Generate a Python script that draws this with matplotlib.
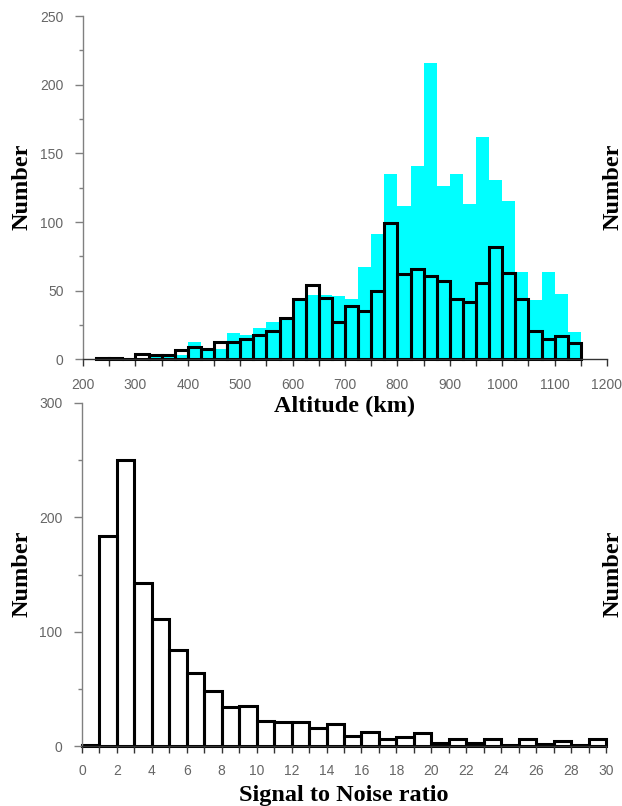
import numpy as np
import matplotlib
matplotlib.use('Agg')
import matplotlib.pyplot as plt
from matplotlib.ticker import MultipleLocator

# altitude histogram, 25 km bins
alt_all_left = [300, 325, 350, 375, 400, 425, 450, 475, 500, 525, 550, 575,
                600, 625, 650, 675, 700, 725, 750, 775, 800, 825, 850, 875,
                900, 925, 950, 975, 1000, 1025, 1050, 1075, 1100, 1125]
alt_all_counts = [0, 3, 3, 3, 13, 7, 8, 19, 18, 23, 27, 30,
                  44, 47, 47, 46, 44, 67, 91, 135, 112, 141, 216, 126,
                  135, 113, 162, 131, 115, 64, 43, 64, 48, 20]

alt_sel_left = [225, 250, 275, 300, 325, 350, 375, 400, 425, 450, 475, 500,
                525, 550, 575, 600, 625, 650, 675, 700, 725, 750, 775, 800,
                825, 850, 875, 900, 925, 950, 975, 1000, 1025, 1050, 1075,
                1100, 1125]
alt_sel_counts = [1, 1, 0, 4, 3, 3, 7, 9, 8, 13, 13, 15,
                  18, 21, 30, 44, 54, 45, 27, 39, 35, 50, 99, 62,
                  66, 61, 57, 44, 42, 56, 82, 63, 44, 21, 15,
                  17, 12]

# signal to noise histogram, bins of 1
snr_left = list(range(0, 30))
snr_counts = [1, 184, 250, 143, 111, 84, 64, 48, 34, 35,
              22, 21, 21, 16, 19, 9, 12, 6, 8, 11,
              3, 6, 3, 6, 1, 6, 2, 4, 1, 6]

W, H = 622, 806
fig = plt.figure(figsize=(W / 100, H / 100), dpi=100)

tick_font = dict(family='Liberation Sans', size=10, color='#666666')
label_font = dict(family='Liberation Serif', weight='bold', size=17.5, color='black')


def style_axes(ax):
    ax.patch.set_alpha(0)
    for s in ['top', 'right']:
        ax.spines[s].set_visible(False)
    ax.spines['left'].set_color('#808080')
    ax.spines['bottom'].set_color('#333333')
    ax.spines['left'].set_linewidth(1.0)
    ax.spines['bottom'].set_linewidth(1.0)
    ax.tick_params(axis='y', which='major', direction='out', length=6, width=1,
                   color='#808080', pad=8)
    ax.tick_params(axis='y', which='minor', direction='out', length=3, width=1,
                   color='#808080')
    ax.tick_params(axis='x', which='both', direction='out', length=5, width=1,
                   color='#333333', pad=8)
    for lab in ax.get_xticklabels() + ax.get_yticklabels():
        lab.set_fontfamily(tick_font['family'])
        lab.set_fontsize(tick_font['size'])
        lab.set_color(tick_font['color'])


# top panel
ax1 = fig.add_axes([83 / W, 1 - 359.5 / H, 524 / W, 343.5 / H])
ax1.bar(alt_all_left, alt_all_counts, width=25, align='edge', color='#00ffff',
        edgecolor='none', zorder=1)
ax1.bar(alt_sel_left, alt_sel_counts, width=25, align='edge', fill=False,
        edgecolor='black', linewidth=2.2, zorder=2, clip_on=False)
ax1.set_xlim(200, 1200)
ax1.set_ylim(0, 250)
ax1.xaxis.set_major_locator(MultipleLocator(100))
ax1.xaxis.set_minor_locator(MultipleLocator(50))
ax1.yaxis.set_major_locator(MultipleLocator(50))
ax1.yaxis.set_minor_locator(MultipleLocator(25))
style_axes(ax1)
ax1.set_xlabel('Altitude (km)', labelpad=3, **label_font)

# bottom panel
ax2 = fig.add_axes([82 / W, 1 - 746 / H, 524 / W, 343 / H])
ax2.bar(snr_left, snr_counts, width=1, align='edge', fill=False,
        edgecolor='black', linewidth=2.2, clip_on=False)
ax2.set_xlim(0, 30)
ax2.set_ylim(0, 300)
ax2.xaxis.set_major_locator(MultipleLocator(2))
ax2.xaxis.set_minor_locator(MultipleLocator(1))
ax2.yaxis.set_major_locator(MultipleLocator(100))
ax2.yaxis.set_minor_locator(MultipleLocator(50))
style_axes(ax2)
ax2.set_xlabel('Signal to Noise ratio', labelpad=5, **label_font)

# y labels (left and right edge)
for yc in [187, 574]:
    fig.text(22 / W, 1 - yc / H, 'Number', rotation=90, ha='center', va='center',
             **label_font)
    fig.text(613 / W, 1 - yc / H, 'Number', rotation=90, ha='center', va='center',
             **label_font)

fig.savefig('out.png', dpi=100)
